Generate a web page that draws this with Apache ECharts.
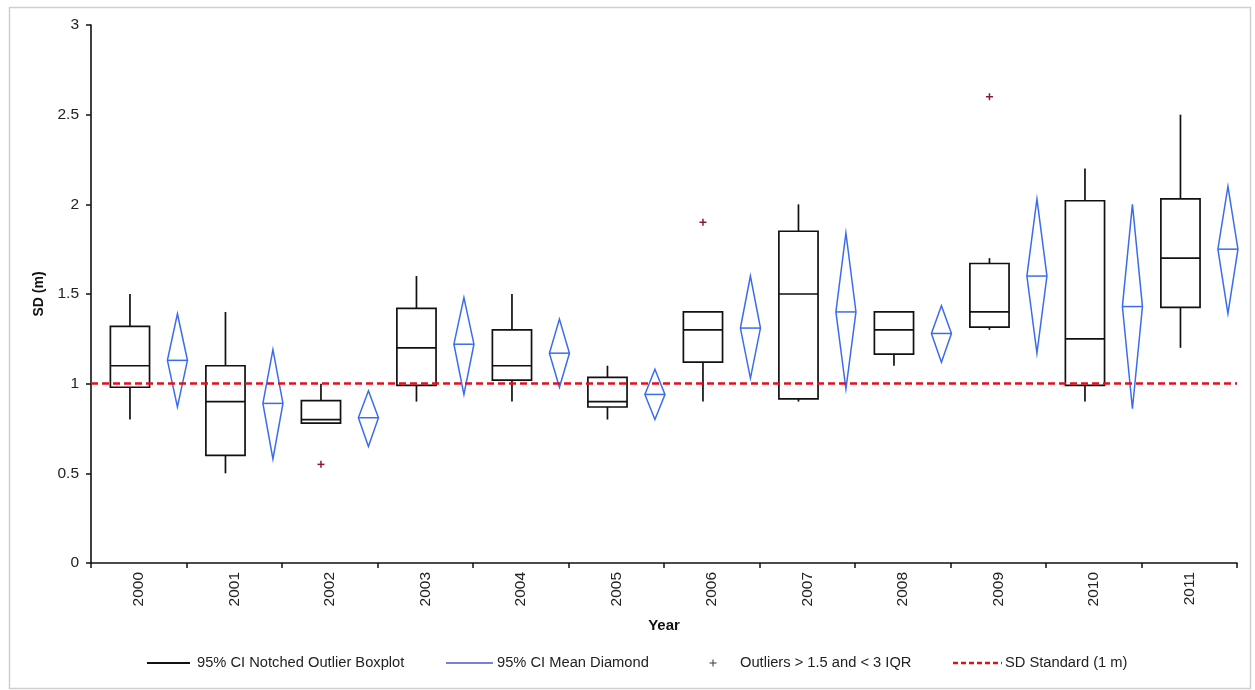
<!DOCTYPE html>
<html>
<head>
<meta charset="utf-8">
<script src="https://cdn.jsdelivr.net/npm/echarts@6/dist/echarts.min.js"></script>
<style>
  html, body { margin: 0; padding: 0; background: #fff; }
  #chart { width: 1255px; height: 690px; }
</style>
</head>
<body>
<div id="chart"></div>
<script>
// ---- Data ----
var years = ['2000','2001','2002','2003','2004','2005','2006','2007','2008','2009','2010','2011'];
// Boxplot: lower whisker, Q1, median, Q3, upper whisker
var whiskerLow  = [0.80, 0.50, 0.78, 0.90, 0.90, 0.80, 0.90, 0.90, 1.10, 1.30, 0.90, 1.20];
var q1          = [0.98, 0.60, 0.78, 0.99, 1.02, 0.87, 1.12, 0.915, 1.165, 1.315, 0.99, 1.425];
var median      = [1.10, 0.90, 0.80, 1.20, 1.10, 0.90, 1.30, 1.50, 1.30, 1.40, 1.25, 1.70];
var q3          = [1.32, 1.10, 0.905, 1.42, 1.30, 1.035, 1.40, 1.85, 1.40, 1.67, 2.02, 2.03];
var whiskerHigh = [1.50, 1.40, 1.00, 1.60, 1.50, 1.10, 1.40, 2.00, 1.40, 1.70, 2.20, 2.50];
// Mean diamond: lower 95% CI, mean, upper 95% CI
var ciLow  = [0.87, 0.58, 0.65, 0.94, 0.98, 0.80, 1.03, 0.97, 1.12, 1.17, 0.86, 1.39];
var mean   = [1.13, 0.89, 0.81, 1.22, 1.17, 0.94, 1.31, 1.40, 1.28, 1.60, 1.43, 1.75];
var ciHigh = [1.39, 1.19, 0.96, 1.48, 1.36, 1.08, 1.60, 1.84, 1.435, 2.03, 2.00, 2.10];
// Outliers: year label and value
var outlierYears  = ['2002', '2006', '2009'];
var outlierValues = [0.55, 1.90, 2.60];
// Standard line
var sdStandard = 1;
var yTicks = { min: 0, max: 3, interval: 0.5 };

// ---- Build series data ----
var boxData = years.map(function (y, i) {
  return [i, whiskerLow[i], q1[i], median[i], q3[i], whiskerHigh[i]];
});
var diamondData = years.map(function (y, i) {
  return [i, ciLow[i], mean[i], ciHigh[i]];
});
var outlierData = outlierYears.map(function (y, k) {
  return [years.indexOf(y), outlierValues[k]];
});

var FONT = "'Liberation Sans', Arial, sans-serif";
var BOX_COLOR = '#111111';
var DIA_COLOR = '#3b6cf0';
var OUT_COLOR = '#8a1a36';
var RED = '#e3101c';
var BOX_SHIFT = -0.092, BOX_HALF = 0.205;
var DIA_SHIFT = 0.405, DIA_HALF = 0.105;

function renderBox(params, api) {
  var i = api.value(0);
  var bw = api.size([1, 0])[0];
  var cx = api.coord([i, 0])[0] + BOX_SHIFT * bw;
  var hw = BOX_HALF * bw;
  var yLo = api.coord([i, api.value(1)])[1];
  var yQ1 = api.coord([i, api.value(2)])[1];
  var yMed = api.coord([i, api.value(3)])[1];
  var yQ3 = api.coord([i, api.value(4)])[1];
  var yHi = api.coord([i, api.value(5)])[1];
  var st = { stroke: BOX_COLOR, lineWidth: 1.7, fill: null };
  return {
    type: 'group',
    children: [
      { type: 'line', shape: { x1: cx, y1: yQ3, x2: cx, y2: yHi }, style: st },
      { type: 'line', shape: { x1: cx, y1: yQ1, x2: cx, y2: yLo }, style: st },
      { type: 'rect', shape: { x: cx - hw, y: yQ3, width: 2 * hw, height: yQ1 - yQ3 }, style: st },
      { type: 'line', shape: { x1: cx - hw, y1: yMed, x2: cx + hw, y2: yMed }, style: st }
    ]
  };
}

function renderDiamond(params, api) {
  var i = api.value(0);
  var bw = api.size([1, 0])[0];
  var cx = api.coord([i, 0])[0] + DIA_SHIFT * bw;
  var hw = DIA_HALF * bw;
  var yLo = api.coord([i, api.value(1)])[1];
  var yM = api.coord([i, api.value(2)])[1];
  var yHi = api.coord([i, api.value(3)])[1];
  var st = { stroke: DIA_COLOR, lineWidth: 1.5, fill: null };
  return {
    type: 'group',
    children: [
      { type: 'polygon', shape: { points: [[cx, yHi], [cx + hw, yM], [cx, yLo], [cx - hw, yM]] }, style: st },
      { type: 'line', shape: { x1: cx - hw, y1: yM, x2: cx + hw, y2: yM }, style: st }
    ]
  };
}

function renderOutlier(params, api) {
  var i = api.value(0);
  var bw = api.size([1, 0])[0];
  var p = api.coord([i, api.value(1)]);
  var cx = p[0] + BOX_SHIFT * bw;
  var cy = p[1];
  var s = 3.5;
  var st = { stroke: OUT_COLOR, lineWidth: 1.5, fill: null };
  return {
    type: 'group',
    children: [
      { type: 'line', shape: { x1: cx - s, y1: cy, x2: cx + s, y2: cy }, style: st },
      { type: 'line', shape: { x1: cx, y1: cy - s, x2: cx, y2: cy + s }, style: st }
    ]
  };
}

var legendY = 663;
function lt(x, text) {
  return { type: 'text', left: x, top: legendY - 8, style: { text: text, fill: '#222', font: '14.7px ' + FONT } };
}

var chart = echarts.init(document.getElementById('chart'), null, { renderer: 'canvas' });
chart.setOption({
  backgroundColor: '#ffffff',
  animation: false,
  grid: { left: 91, right: 18, top: 25, bottom: 127 },
  xAxis: {
    type: 'category',
    data: years,
    boundaryGap: true,
    name: 'Year',
    nameLocation: 'middle',
    nameGap: 55,
    nameTextStyle: { fontFamily: FONT, fontSize: 15, fontWeight: 'bold', color: '#111' },
    axisLine: { show: true, lineStyle: { color: '#111', width: 1.6 } },
    axisTick: { show: true, interval: 0, length: 5, lineStyle: { color: '#111', width: 1.5 } },
    axisLabel: { rotate: 90, interval: 0, margin: 9, fontFamily: FONT, fontSize: 15.5, color: '#222' },
    splitLine: { show: false }
  },
  yAxis: {
    type: 'value',
    min: yTicks.min,
    max: yTicks.max,
    interval: yTicks.interval,
    name: 'SD (m)',
    nameLocation: 'middle',
    nameGap: 44,
    nameTextStyle: { fontFamily: FONT, fontSize: 14, fontWeight: 'bold', color: '#111' },
    axisLine: { show: true, lineStyle: { color: '#111', width: 1.6 } },
    axisTick: { show: true, length: 5, lineStyle: { color: '#111', width: 1.5 } },
    axisLabel: { margin: 12, fontFamily: FONT, fontSize: 15.5, color: '#222' },
    splitLine: { show: false }
  },
  series: [
    {
      name: '95% CI Notched Outlier Boxplot',
      type: 'custom',
      renderItem: renderBox,
      encode: { x: 0, y: [1, 2, 3, 4, 5] },
      data: boxData,
      z: 3,
      markLine: {
        silent: true,
        symbol: ['none', 'none'],
        label: { show: false },
        lineStyle: { color: RED, width: 2.6, type: [7, 4] },
        data: [{ yAxis: sdStandard }],
        z: 5
      }
    },
    {
      name: '95% CI Mean Diamond',
      type: 'custom',
      renderItem: renderDiamond,
      encode: { x: 0, y: [1, 2, 3] },
      data: diamondData,
      z: 3
    },
    {
      name: 'Outliers > 1.5 and < 3 IQR',
      type: 'custom',
      renderItem: renderOutlier,
      encode: { x: 0, y: 1 },
      data: outlierData,
      z: 4
    }
  ],
  graphic: [
    { type: 'rect', left: 7, top: 5, shape: { width: 1241, height: 681 }, style: { fill: null, stroke: '#cfcfcf', lineWidth: 1.5 }, silent: true },
    { type: 'line', shape: { x1: 147, y1: legendY, x2: 190, y2: legendY }, style: { stroke: '#111', lineWidth: 2 } },
    lt(197, '95% CI Notched Outlier Boxplot'),
    { type: 'line', shape: { x1: 446, y1: legendY, x2: 493, y2: legendY }, style: { stroke: '#4a56d8', lineWidth: 1.6 } },
    lt(497, '95% CI Mean Diamond'),
    { type: 'line', shape: { x1: 709.5, y1: legendY, x2: 716.5, y2: legendY }, style: { stroke: '#555', lineWidth: 1.2 } },
    { type: 'line', shape: { x1: 713, y1: legendY - 3.5, x2: 713, y2: legendY + 3.5 }, style: { stroke: '#555', lineWidth: 1.2 } },
    lt(740, 'Outliers > 1.5 and < 3 IQR'),
    { type: 'line', shape: { x1: 953, y1: legendY, x2: 1002, y2: legendY }, style: { stroke: RED, lineWidth: 2.6, lineDash: [5, 3] } },
    lt(1005, 'SD Standard (1 m)')
  ]
});
</script>
</body>
</html>
